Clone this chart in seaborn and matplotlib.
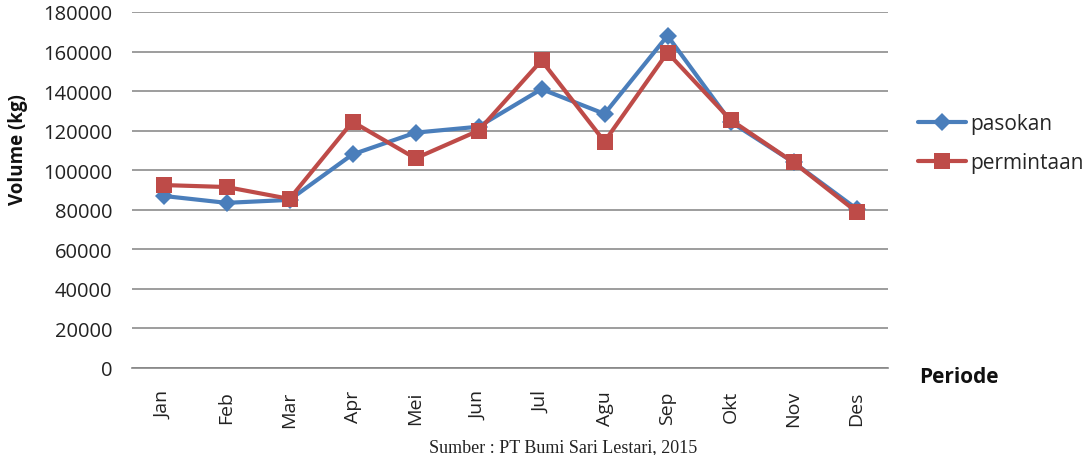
import matplotlib
matplotlib.use("Agg")
import matplotlib.pyplot as plt
import seaborn as sns
import pandas as pd
import numpy as np

months = ["Jan", "Feb", "Mar", "Apr", "Mei", "Jun", "Jul", "Agu", "Sep", "Okt", "Nov", "Des"]
pasokan = [87000, 83500, 85000, 108000, 119000, 122000, 141000, 128500, 168000, 124500, 104000, 80500]
permintaan = [92500, 91500, 85500, 124500, 106000, 120000, 155500, 114500, 159500, 125500, 104000, 79000]
yticks = [0, 20000, 40000, 60000, 80000, 100000, 120000, 140000, 160000, 180000]

df = pd.DataFrame({
    "Periode": months * 2,
    "Volume": pasokan + permintaan,
    "Seri": ["pasokan"] * len(months) + ["permintaan"] * len(months),
})
df["pos"] = np.tile(np.arange(len(months)), 2)

sns.set_style("white")
plt.rcParams["font.family"] = ["Open Sans", "DejaVu Sans"]

W, H = 1090, 456
fig = plt.figure(figsize=(W / 100, H / 100), dpi=100)
ax = fig.add_axes([132 / W, 1 - 369 / H, (888 - 132) / W, (369 - 13) / H])

palette = {"pasokan": "#4A7EBB", "permintaan": "#BE4B48"}
sns.lineplot(data=df[df.Seri == "pasokan"], x="pos", y="Volume", color=palette["pasokan"],
             marker="D", markersize=9, linewidth=3, markeredgewidth=0, ax=ax, label="pasokan")
sns.lineplot(data=df[df.Seri == "permintaan"], x="pos", y="Volume", color=palette["permintaan"],
             marker="s", markersize=12, linewidth=3, markeredgewidth=0, ax=ax, label="permintaan")

ax.set_xlim(-0.5, len(months) - 0.5)
ax.set_ylim(0, 180000)
ax.set_yticks(yticks)
ax.set_yticklabels([str(v) for v in yticks], fontsize=14.5, color="#222222")
ax.set_xticks(np.arange(len(months)))
ax.set_xticklabels(months, rotation=90, fontsize=14, color="#222222")
ax.tick_params(axis="x", length=0, pad=16)
ax.tick_params(axis="y", length=0, pad=14)
# minor ticks at category boundaries
ax.set_xticks(np.arange(-0.5, len(months)), minor=True)
ax.tick_params(axis="x", which="minor", length=7, color="#868686", width=1, direction="out")
ax.grid(axis="y", color="#8C8C8C", linewidth=1.2)
ax.set_axisbelow(True)
for s in ["top", "right", "left"]:
    ax.spines[s].set_visible(False)
ax.spines["bottom"].set_color("#868686")
ax.spines["bottom"].set_linewidth(1.2)
ax.set_xlabel("")
ax.set_ylabel("")

leg = ax.legend(loc="upper left", bbox_to_anchor=(910 / W, 1 - 106 / H), bbox_transform=fig.transFigure,
                frameon=False, fontsize=15, handlelength=2.3, handletextpad=0.2, labelspacing=0.85,
                borderaxespad=0)

fig.text(18 / W, 1 - 150 / H, "Volume (kg)", rotation=90, fontsize=13.5, fontweight="bold",
         ha="center", va="center", color="#111111")
fig.text(919 / W, 1 - 378 / H, "Periode", fontsize=15, fontweight="bold", ha="left", va="center",
         color="#111111")
fig.text(563 / W, 4 / H, "Sumber : PT Bumi Sari Lestari, 2015", fontsize=13,
         family="Liberation Serif", ha="center", va="baseline", color="#222222")

fig.savefig("out.png", dpi=100)
